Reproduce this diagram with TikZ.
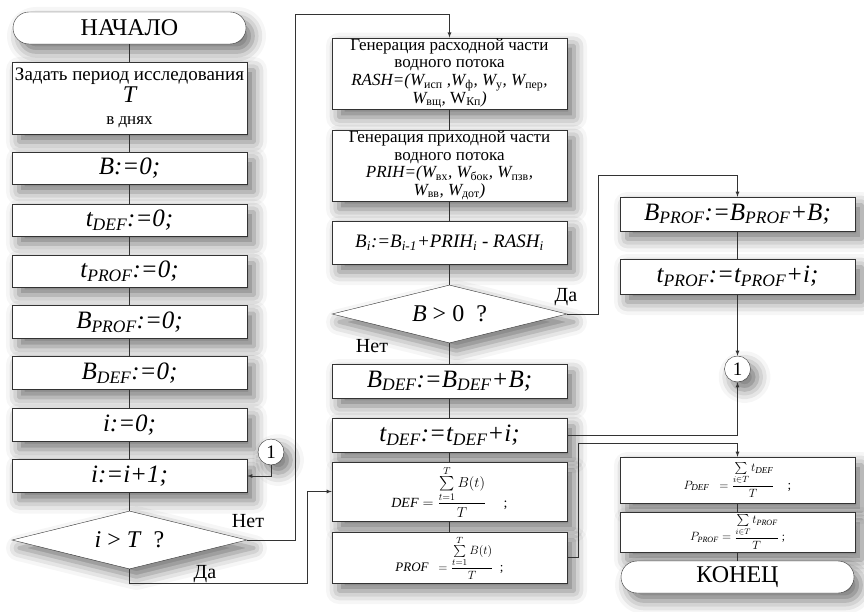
\documentclass[tikz,border=0pt]{standalone}
\usepackage{amsmath}
\usepackage{fontspec}
\setmainfont{Liberation Serif}[Ligatures=TeX]
\usetikzlibrary{shapes.geometric,shapes.misc,shadows.blur}

\newcommand\nz[1]{\textsubscript{\upshape #1}}

\tikzset{
  ten/.style={blur shadow={shadow xshift=7pt,shadow yshift=-8pt,shadow blur radius=13pt,shadow opacity=55}},
  blok/.style={draw=black!80,fill=white,rectangle,minimum width=235pt,minimum height=#1,inner sep=1pt,align=center,ten},
  term/.style={draw=black!80,fill=white,rounded rectangle,minimum width=235pt,minimum height=32pt,inner sep=1pt,ten,font=\fontsize{24}{26}\selectfont},
  romb/.style={draw=black!80,fill=white,diamond,aspect=4,minimum width=235pt,minimum height=58pt,inner sep=1pt,ten,font=\fontsize{24}{26}\selectfont},
  krug/.style={draw=black!80,fill=white,circle,minimum size=26pt,inner sep=0pt,ten,font=\fontsize{19}{19}\selectfont},
  prisv/.style={font=\fontsize{25}{27}\selectfont\itshape},
  gen/.style={font=\fontsize{17}{17.6}\selectfont},
  metka/.style={font=\fontsize{20}{22}\selectfont},
  lin/.style={draw=black!80,line width=0.8pt},
  >=latex
}

\begin{document}
\begin{tikzpicture}[x=1pt,y=-1pt]
\useasboundingbox (0,0) rectangle (864,612);
% left column
\node[term] (nach) at (129.5,28) {НАЧАЛО};
\node[blok=72pt,font=\fontsize{19}{22}\selectfont] (zad) at (129.5,98) {Задать период исследования\\{\fontsize{24}{23}\selectfont\itshape T}\\{\fontsize{17}{22}\selectfont в днях}};
\node[blok=32pt,prisv] (b0) at (129.5,168) {B:=0;};
\node[blok=32pt,prisv] (td0) at (129.5,220) {t\textsubscript{DEF}:=0;};
\node[blok=32pt,prisv] (tp0) at (129.5,271) {t\textsubscript{PROF}:=0;};
\node[blok=33pt,prisv] (bp0) at (129.5,322) {B\textsubscript{PROF}:=0;};
\node[blok=33pt,prisv] (bd0) at (129.5,373) {B\textsubscript{DEF}:=0;};
\node[blok=33pt,prisv] (i0) at (129.5,425) {i:=0;};
\node[blok=33pt,prisv] (inc) at (129.5,476) {i:=i+1;};
\node[romb] (usl1) at (129.5,540) {\textit{i} > \textit{T}\ \ ?};
\node[krug] (c1) at (271,452) {1};

% middle column
\node[blok=71pt,gen] (rash) at (449.5,73.5) {Генерация расходной части\\водного потока\\\textit{RASH=(W\nz{исп} ,W\nz{ф}, W\nz{у}, W\nz{пер},}\\\textit{W\nz{вщ},} W\nz{Кп}\textit{)}};
\node[blok=71pt,gen] (prih) at (449.5,165.5) {Генерация приходной части\\водного потока\\\textit{PRIH=(W\nz{вх}, W\nz{бок}, W\nz{пзв},}\\\textit{W\nz{вв}, W\nz{дот})}};
\node[blok=43pt,font=\fontsize{19}{19}\selectfont] (bi) at (449.5,242.5) {\textit{B\textsubscript{i}:=B\textsubscript{i-1}+PRIH\textsubscript{i} - RASH\textsubscript{i}}};
\node[romb] (usl2) at (449.5,314) {\textit{B} > 0\ \ ?};
\node[blok=34pt,prisv] (bdef) at (449.5,381) {B\textsubscript{DEF}:=B\textsubscript{DEF}+B;};
\node[blok=34pt,prisv] (tdef) at (449.5,435) {t\textsubscript{DEF}:=t\textsubscript{DEF}+i;};
\node[blok=59pt,font=\fontsize{14}{16}\selectfont] (def) at (449.5,491.5) {$\mathit{DEF}=\dfrac{\sum\limits_{t=1}^{T}B(t)}{T}$\quad\ ;};
\node[blok=51pt,font=\fontsize{13}{15}\selectfont] (prof) at (449.5,557.5) {$\mathit{PROF}\ \ =\dfrac{\sum\limits_{t=1}^{T}B(t)}{T}$\ \ ;};

% right column
\node[blok=34pt,prisv] (bprof) at (737.5,214) {B\textsubscript{PROF}:=B\textsubscript{PROF}+B;};
\node[blok=35pt,prisv] (tprof) at (737.5,276.5) {t\textsubscript{PROF}:=t\textsubscript{PROF}+i;};
\node[krug] (c2) at (737.5,369) {1};
\node[blok=46pt,font=\fontsize{13}{15}\selectfont] (pdef) at (737.5,480) {$P_{\mathit{DEF}}\ \ =\dfrac{\sum\limits_{i\in T}t_{\mathit{DEF}}}{T}$\quad ;};
\node[blok=40pt,font=\fontsize{11.5}{13}\selectfont] (pprof) at (737.5,532) {$P_{\mathit{PROF}}=\dfrac{\sum\limits_{i\in T}t_{\mathit{PROF}}}{T}$\ ;};
\node[term] (kon) at (737.5,577) {КОНЕЦ};

% labels
\node[metka] (net1) at (248,521) {Нет};
\node[metka] (da1) at (205,574) {Да};
\node[metka] (da2) at (566,297) {Да};
\node[metka] (net2) at (372,346) {Нет};

\foreach \a/\b in {nach/zad,zad/b0,b0/td0,td0/tp0,tp0/bp0,bp0/bd0,bd0/i0,i0/inc,inc/usl1,rash/prih,prih/bi,bi/usl2,usl2/bdef,bdef/tdef,tdef/def,def/prof,bprof/tprof,pdef/pprof,pprof/kon}
  \draw[lin] (\a.south) -- (\b.north);

\coordinate (p1) at (295,14);
\coordinate (p2) at (307,583);
\coordinate (p3) at (598,175);
\coordinate (p4) at (578,443);
\draw[lin,->] (c1.south) |- (inc.east);
\draw[lin,->] (usl1.east) -| (p1) -| (rash.north);
\draw[lin,->] (usl1.south) |- (p2) |- (def.west);
\draw[lin,->] (usl2.east) -| (p3) -| (bprof.north);
\draw[lin,->] (tprof.south) -- (c2.north);
\draw[lin,->] (tdef.east) -| (c2.south);
\draw[lin,->] (prof.east) -| (p4) -| (pdef.north);
\end{tikzpicture}
\end{document}
